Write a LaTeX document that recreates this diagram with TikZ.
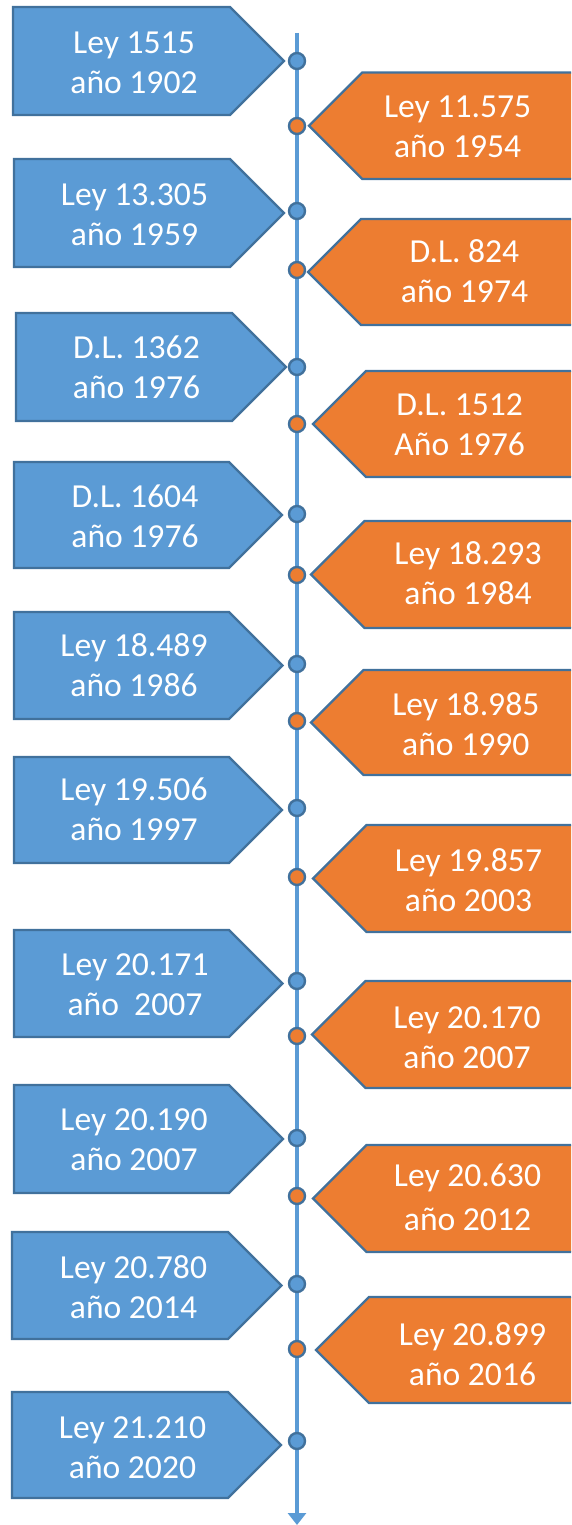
\documentclass[tikz,border=0pt]{standalone}
\usepackage{fontspec}
\setmainfont{Carlito}
\usetikzlibrary{arrows.meta}
\definecolor{bfill}{HTML}{5B9BD5}
\definecolor{ofill}{HTML}{ED7D31}
\definecolor{edgec}{HTML}{41719C}
\newcommand{\twolines}[2]{\vtop{\baselineskip=#1\lineskiplimit=-100pt\lineskip=0pt\halign{\hfil##\hfil\cr#2\cr}}}
% left (blue) box: name, left, top, bottom, corner, textx, baseline, gap, text
\newcommand{\lbox}[9]{%
  \filldraw[bluebox] (#2,#3) -- (#5,#3) -- ({#5+(#4-#3)/2},{(#3+#4)/2}) -- (#5,#4) -- (#2,#4) -- cycle;
  \node[lbl] (#1) at (#6,#7) {\twolines{#8}{#9}};
}
% right (orange) box: name, tip, top, bottom, textx, baseline, gap, text
\newcommand{\rbox}[8]{%
  \filldraw[orangebox] ({#2+(#4-#3)/2},#3) -- (590,#3) -- (590,#4) -- ({#2+(#4-#3)/2},#4) -- (#2,{(#3+#4)/2}) -- cycle;
  \node[lbl] (#1) at (#5,#6) {\twolines{#7}{#8}};
}
\tikzset{
  bluebox/.style={fill=bfill, draw=edgec, line width=2.4pt, line join=miter},
  orangebox/.style={fill=ofill, draw=edgec, line width=2.4pt, line join=miter},
  lbl/.style={anchor=base, inner sep=0pt, text=white, font=\fontsize{33.6}{40}\selectfont},
  bdot/.style={circle, minimum size=16pt, inner sep=0pt, fill=bfill, draw=edgec, line width=2.4pt},
  odot/.style={circle, minimum size=16pt, inner sep=0pt, fill=ofill, draw=edgec, line width=2.4pt},
  axis/.style={draw=bfill, line width=3.5pt, -{Triangle[width=18pt,length=12pt]}}
}
\begin{document}
\begin{tikzpicture}[x=1pt,y=-1pt]
\useasboundingbox (0,0) rectangle (571,1525);
\clip (0,0) rectangle (571,1525);
\coordinate (top) at (297,33);
\coordinate (bottom) at (297,1525);
\draw[axis] (top) -- (bottom);
% blue boxes
\lbox{b1}{13}{7}{115}{230}{134}{53.5}{40pt}{Ley 1515\cr año 1902}
\lbox{b2}{14}{159}{267}{230}{134.5}{205}{40pt}{Ley 13.305\cr año 1959}
\lbox{b3}{16}{313}{421}{232}{136.5}{358.5}{40pt}{D.L. 1362\cr año 1976}
\lbox{b4}{14}{462}{568}{229}{135}{507.3}{40pt}{D.L. 1604\cr año 1976}
\lbox{b5}{14}{612}{719}{229}{134}{656}{40pt}{Ley 18.489\cr año 1986}
\lbox{b6}{14}{757}{863}{229}{134}{800.7}{40pt}{Ley 19.506\cr año 1997}
\lbox{b7}{14}{930}{1037}{229}{135}{975}{40pt}{Ley 20.171\cr año~ 2007}
\lbox{b8}{14}{1085}{1193}{229}{134}{1130.7}{40pt}{Ley 20.190\cr año 2007}
\lbox{b9}{12}{1232}{1339}{228}{133.5}{1278.3}{40pt}{Ley 20.780\cr año 2014}
\lbox{b10}{12}{1392}{1498}{228}{132.5}{1438.3}{40pt}{Ley 21.210\cr año 2020}
% orange boxes
\rbox{o1}{309}{72.5}{179}{457.6}{118}{40pt}{Ley 11.575\cr año 1954}
\rbox{o2}{308}{219}{325}{464.5}{262.3}{40pt}{D.L. 824\cr año 1974}
\rbox{o3}{313}{371}{477}{459.7}{415}{40pt}{D.L. 1512\cr Año 1976}
\rbox{o4}{311}{521}{628}{468}{564}{40pt}{Ley 18.293\cr año 1984}
\rbox{o5}{311}{670}{775}{465.8}{715.7}{40pt}{Ley 18.985\cr año 1990}
\rbox{o6}{313}{825}{932}{468.5}{871.7}{40pt}{Ley 19.857\cr año 2003}
\rbox{o7}{312}{981}{1088}{467}{1028.3}{40pt}{Ley 20.170\cr año 2007}
\rbox{o8}{313}{1145}{1252}{467.5}{1186}{44pt}{Ley 20.630\cr año 2012}
\rbox{o9}{316}{1297}{1403}{472.5}{1345}{40pt}{Ley 20.899\cr año 2016}
% dots
\node[bdot] (cb1) at (297,61) {};
\node[bdot] (cb2) at (297,211) {};
\node[bdot] (cb3) at (297,367) {};
\node[bdot] (cb4) at (297,514) {};
\node[bdot] (cb5) at (297,664) {};
\node[bdot] (cb6) at (297,808) {};
\node[bdot] (cb7) at (297,981) {};
\node[bdot] (cb8) at (297,1138) {};
\node[bdot] (cb9) at (297,1284) {};
\node[bdot] (cb10) at (297,1441) {};
\node[odot] (co1) at (297,126) {};
\node[odot] (co2) at (297,270) {};
\node[odot] (co3) at (297,424) {};
\node[odot] (co4) at (297,575) {};
\node[odot] (co5) at (297,721) {};
\node[odot] (co6) at (297,877) {};
\node[odot] (co7) at (297,1036) {};
\node[odot] (co8) at (297,1196) {};
\node[odot] (co9) at (297,1349) {};
\end{tikzpicture}
\end{document}
